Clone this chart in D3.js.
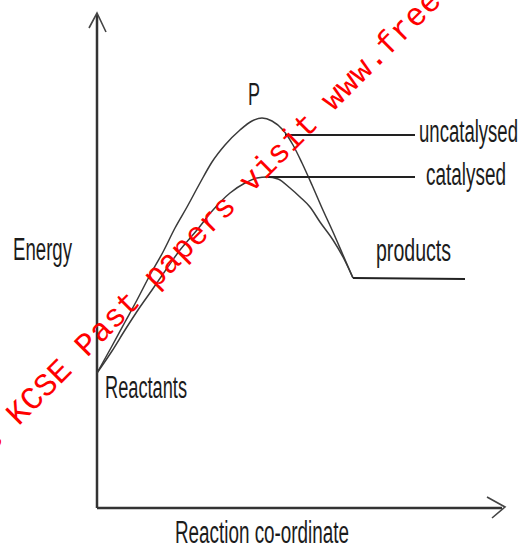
<!DOCTYPE html>
<html>
<head>
<meta charset="utf-8">
<script src="https://cdn.jsdelivr.net/npm/d3@7"></script>
<style>
  html, body { margin: 0; padding: 0; background: #fff; }
  svg { display: block; }
</style>
</head>
<body>
<svg id="chart" width="528" height="548"></svg>
<script>
// ---- data (arbitrary energy / reaction-coordinate units) ----
const uncatX = [0, 3.75, 7, 10, 13.25, 16.5, 19.5, 22.5, 25.75, 28.75, 32, 35.75, 38.75, 41.25, 43.75, 46.5, 49, 51.25, 53.75, 56.25, 59, 61.5, 64];
const uncatY = [27, 32.4, 37.2, 41.6, 46.6, 51.2, 56, 60.2, 65, 69.2, 72.6, 75.6, 77.4, 78, 77.4, 75.6, 72.6, 69, 64.6, 60, 55.2, 50.6, 46];
const catX = [0, 3.75, 7, 10.75, 13.75, 16.5, 20.75, 25, 29, 33.25, 37, 40, 42.5, 45.25, 48.25, 50.75, 53.25, 55.75, 59, 61.5, 64];
const catY = [27, 31.4, 35.6, 40.2, 43.6, 46.8, 51.6, 55.6, 59.6, 63, 65, 66, 66.2, 65.8, 64, 62.2, 60.2, 57.2, 53.6, 50.2, 46];
const productsX = [64, 92];
const productsY = [46, 45.8];
const leaderUncatX = [47, 79.5];
const leaderUncatY = [74.6, 74.6];
const leaderCatX = [42.5, 79.5];
const leaderCatY = [66.2, 66.2];
const xDomain = [0, 100];
const yDomain = [0, 99];
const labelTexts = ["P", "uncatalysed", "catalysed", "Energy", "products", "Reactants", "Reaction co-ordinate"];
const watermarkText = "Download more KCSE Past papers visit www.freekcsepastpapers.com";

// ---- drawing ----
const svg = d3.select("#chart");
const x = d3.scaleLinear().domain(xDomain).range([97, 497]);
const y = d3.scaleLinear().domain(yDomain).range([508, 13]);

const line = d3.line().x(d => x(d[0])).y(d => y(d[1]));
const curve = d3.line().x(d => x(d[0])).y(d => y(d[1])).curve(d3.curveMonotoneX);
const zip = (a, b) => a.map((v, i) => [v, b[i]]);

// axes
const axisG = svg.append("g").attr("stroke", "#333").attr("fill", "none");
axisG.append("line").attr("x1", x(0)).attr("y1", y(0)).attr("x2", x(0)).attr("y2", y(yDomain[1]) + 2)
  .attr("stroke-width", 2.5);
axisG.append("line").attr("x1", x(0)).attr("y1", y(0)).attr("x2", x(xDomain[1]) + 5).attr("y2", y(0))
  .attr("stroke-width", 2.5);
// arrowheads (open chevrons)
const tipY = [x(0), y(yDomain[1])];
axisG.append("path").attr("d", `M${tipY[0]-8},${tipY[1]+15} L${tipY[0]},${tipY[1]} L${tipY[0]+9},${tipY[1]+19}`)
  .attr("stroke-width", 1.6).attr("stroke", "#444");
const tipX = [x(xDomain[1]) + 8, y(0) - 1];
axisG.append("path").attr("d", `M${tipX[0]-18},${tipX[1]-10} L${tipX[0]},${tipX[1]} L${tipX[0]-13},${tipX[1]+11}`)
  .attr("stroke-width", 1.6).attr("stroke", "#444");

// curves
svg.append("path").datum(zip(uncatX, uncatY)).attr("d", curve)
  .attr("fill", "none").attr("stroke", "#3a3a3a").attr("stroke-width", 1.5);
svg.append("path").datum(zip(catX, catY)).attr("d", curve)
  .attr("fill", "none").attr("stroke", "#3a3a3a").attr("stroke-width", 1.5);

// products level + leader lines
svg.append("path").datum(zip(productsX, productsY)).attr("d", line)
  .attr("fill", "none").attr("stroke", "#222").attr("stroke-width", 2);
svg.append("path").datum(zip(leaderUncatX, leaderUncatY)).attr("d", line)
  .attr("fill", "none").attr("stroke", "#222").attr("stroke-width", 2);
svg.append("path").datum(zip(leaderCatX, leaderCatY)).attr("d", line)
  .attr("fill", "none").attr("stroke", "#222").attr("stroke-width", 2);

// labels: [left, baseline, width]
const labelPos = [
  [248, 105, 12],
  [419, 142, 99],
  [426, 185, 80],
  [13, 260, 59],
  [376, 261, 75],
  [105, 398, 82],
  [175, 543, 174]
];
svg.append("g").selectAll("text").data(labelTexts).join("text")
  .attr("x", (d, i) => labelPos[i][0])
  .attr("y", (d, i) => labelPos[i][1])
  .attr("textLength", (d, i) => labelPos[i][2])
  .attr("lengthAdjust", "spacingAndGlyphs")
  .attr("font-family", "'Liberation Sans Narrow', 'Arial Narrow', 'Liberation Sans', sans-serif")
  .attr("font-size", 31)
  .attr("fill", "#1c1c1c")
  .text(d => d);

// watermark
svg.append("text")
  .attr("transform", "translate(-173,618) rotate(-45)")
  .attr("font-family", "'Liberation Mono', 'Courier New', monospace")
  .attr("font-size", 32.25)
  .attr("fill", "#ff0000")
  .text(watermarkText);
</script>
</body>
</html>
